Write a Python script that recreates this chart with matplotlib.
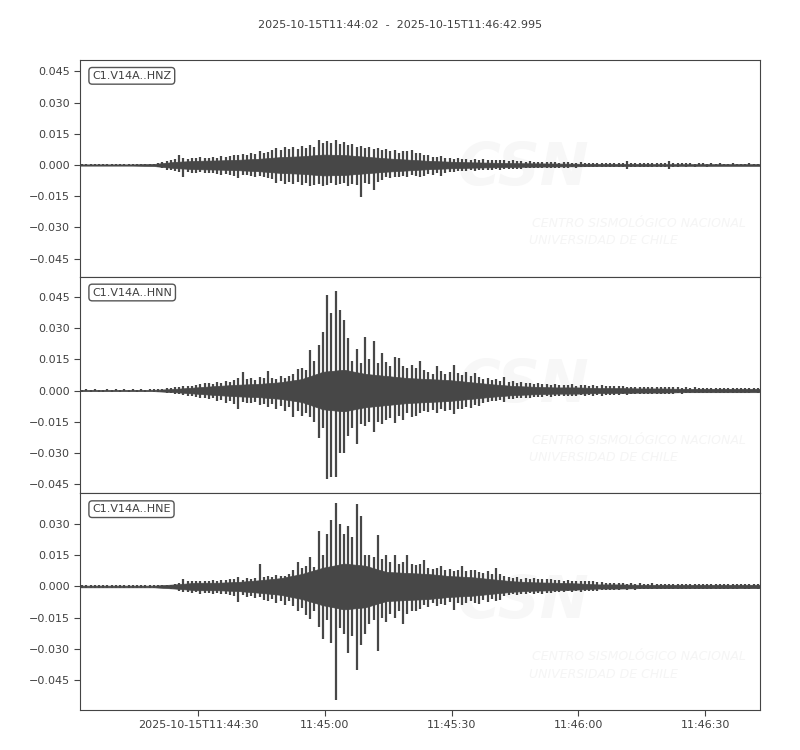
import matplotlib
matplotlib.use("Agg")
import matplotlib.pyplot as plt
import numpy as np
from datetime import datetime, timedelta

# values, in units of 1e-3
# *_up / *_down: highest sample / size of lowest sample in each second
# *_core: half-width of the solid dark band, one value per 5 s
t0 = datetime(2025, 10, 15, 11, 44, 2)
t_end = 160.995
channels = ["C1.V14A..HNZ", "C1.V14A..HNN", "C1.V14A..HNE"]

hnz_up = [0.4, 0.5, 0.4, 0.6, 0.5, 0.4, 0.5, 0.6, 0.4, 0.5,
          0.5, 0.4, 0.6, 0.5, 0.4, 0.5, 0.5, 0.6, 0.9, 1.4,
          2.0, 2.4, 2.8, 4.8, 3.5, 3.0, 3.6, 3.2, 3.8, 3.4,
          3.6, 4.0, 3.5, 4.2, 3.8, 4.5, 5.0, 4.6, 5.5, 4.8,
          6.0, 5.5, 6.5, 5.8, 6.2, 7.0, 8.0, 7.2, 8.5, 7.6,
          8.8, 7.8, 9.0, 8.2, 9.5, 8.6, 12.0, 10.5, 11.5, 10.8,
          11.8, 10.0, 11.2, 9.5, 10.0, 8.8, 9.0, 8.0, 8.5, 7.5,
          8.2, 7.0, 7.8, 6.5, 7.2, 6.0, 6.8, 6.5, 7.0, 5.8,
          5.6, 5.0, 4.6, 4.0, 3.8, 4.2, 3.5, 3.6, 3.0, 3.2,
          2.8, 3.0, 2.6, 2.9, 2.5, 2.7, 2.4, 2.5, 2.2, 2.4,
          2.2, 2.0, 2.3, 1.9, 1.8, 1.6, 1.7, 1.5, 1.6, 1.4,
          1.5, 1.3, 1.4, 1.2, 1.4, 1.3, 1.2, 1.1, 1.3, 1.2,
          1.1, 1.2, 1.0, 1.1, 1.2, 1.0, 1.1, 1.0, 1.1, 1.9,
          1.2, 1.0, 0.9, 1.0, 0.9, 0.8, 0.9, 0.8, 0.9, 2.0,
          1.0, 0.9, 0.8, 0.9, 0.8, 0.7, 0.8, 0.8, 0.7, 0.8,
          0.7, 0.8, 0.7, 0.7, 0.8, 0.7, 0.6, 0.7, 0.8, 0.7, 0.7]
hnz_down = [0.5, 0.4, 0.6, 0.5, 0.4, 0.5, 0.6, 0.4, 0.5, 0.5,
            0.4, 0.6, 0.5, 0.5, 0.6, 0.4, 0.5, 0.5, 0.8, 1.5,
            2.2, 2.6, 3.0, 3.4, 5.6, 3.2, 3.6, 4.0, 3.4, 3.8,
            4.0, 3.6, 4.4, 5.0, 4.2, 4.6, 5.2, 6.2, 5.0, 4.8,
            5.2, 5.8, 5.4, 6.0, 6.4, 6.8, 8.5, 7.6, 9.0, 8.0,
            9.2, 8.4, 9.6, 8.8, 10.0, 9.4, 9.0, 10.2, 9.6, 8.8,
            9.8, 9.2, 8.6, 10.0, 9.0, 9.5, 15.2, 8.6, 9.0, 12.0,
            8.0, 7.0, 6.0, 6.4, 5.6, 5.8, 5.2, 5.6, 5.0, 5.4,
            5.8, 5.2, 4.4, 4.6, 4.0, 5.4, 3.8, 3.2, 3.4, 3.0,
            2.8, 3.0, 2.6, 2.8, 2.4, 2.6, 2.3, 2.4, 2.1, 2.2,
            2.0, 2.1, 1.8, 1.9, 1.7, 1.6, 1.5, 1.6, 1.4, 1.5,
            1.4, 1.3, 1.2, 1.3, 1.2, 1.2, 1.1, 1.2, 1.1, 1.0,
            1.1, 1.0, 1.1, 1.0, 1.0, 1.1, 0.9, 1.0, 1.0, 1.7,
            1.0, 0.9, 0.9, 0.8, 0.9, 0.8, 0.8, 0.9, 0.8, 1.9,
            0.8, 0.9, 0.7, 0.8, 0.7, 0.8, 0.7, 0.7, 0.8, 0.7,
            0.7, 0.7, 0.6, 0.7, 0.7, 0.6, 0.7, 0.6, 0.7, 0.6, 0.7]
hnz_core = [0.3, 0.3, 0.3, 0.5, 1.5, 2.0, 2.2, 2.5, 3.0, 3.8, 4.2,
            5.0, 4.8, 4.0, 3.2, 2.6, 2.0, 1.6, 1.3, 1.1, 0.9, 0.8,
            0.7, 0.6, 0.5, 0.5, 0.5, 0.4, 0.4, 0.4, 0.4, 0.4, 0.4]

hnn_up = [0.4, 0.5, 0.4, 0.5, 0.4, 0.4, 0.5, 0.4, 0.5, 0.4,
          0.5, 0.4, 0.5, 0.4, 0.5, 0.4, 0.5, 0.5, 0.6, 0.8,
          1.0, 1.3, 1.5, 1.8, 2.0, 2.2, 2.4, 2.6, 3.0, 3.4,
          3.6, 3.2, 4.2, 3.8, 4.6, 4.0, 5.0, 5.8, 8.8, 5.4,
          6.0, 5.2, 6.4, 6.0, 9.3, 6.2, 5.6, 6.8, 6.0, 7.0,
          8.0, 10.5, 11.0, 10.0, 19.6, 14.0, 21.7, 28.0, 45.7, 37.0,
          47.8, 38.5, 34.0, 25.0, 14.0, 20.0, 13.0, 25.7, 15.0, 24.0,
          13.0, 18.0, 13.5, 12.0, 16.0, 15.5, 12.0, 11.0, 12.5, 11.0,
          14.0, 10.0, 9.0, 8.0, 12.0, 9.5, 8.0, 9.0, 12.2, 8.5,
          7.5, 9.0, 7.0, 8.5, 6.5, 5.5, 6.0, 5.0, 5.5, 4.5,
          6.4, 4.0, 4.5, 3.8, 4.2, 3.5, 3.8, 3.2, 3.5, 3.0,
          3.0, 2.8, 3.2, 2.6, 2.8, 2.5, 3.0, 2.4, 2.6, 2.5,
          2.4, 2.6, 2.3, 2.5, 2.2, 2.4, 2.0, 2.2, 2.0, 1.9,
          1.8, 1.9, 1.7, 1.8, 1.6, 1.8, 1.7, 1.6, 1.8, 1.5,
          1.6, 1.5, 1.4, 1.6, 1.3, 1.5, 1.4, 1.3, 1.4, 1.2,
          1.3, 1.2, 1.1, 1.3, 1.1, 1.2, 1.0, 1.1, 1.0, 1.1, 1.0]
hnn_down = [0.5, 0.4, 0.5, 0.4, 0.5, 0.5, 0.4, 0.5, 0.4, 0.5,
            0.4, 0.5, 0.4, 0.5, 0.4, 0.5, 0.4, 0.5, 0.6, 0.9,
            1.1, 1.4, 1.6, 1.9, 2.2, 2.4, 2.6, 3.0, 3.6, 3.4,
            4.0, 3.8, 5.0, 4.4, 6.0, 5.2, 6.4, 8.8, 5.6, 6.2,
            6.0, 5.4, 7.0, 6.4, 8.0, 6.6, 9.0, 7.4, 9.6, 8.0,
            12.8, 10.0, 12.0, 11.0, 12.5, 15.0, 23.0, 18.0, 42.5, 41.7,
            41.7, 30.0, 30.0, 22.0, 18.0, 25.7, 16.0, 17.0, 15.0, 20.0,
            15.0, 16.0, 14.0, 13.0, 15.5, 12.0, 14.0, 11.0, 12.5, 12.0,
            11.0, 10.0, 10.5, 9.5, 11.0, 9.0, 10.0, 9.5, 11.2, 9.0,
            9.0, 8.0, 8.5, 7.0, 7.5, 6.0, 5.5, 5.0, 5.2, 4.5,
            5.6, 4.0, 4.2, 3.6, 3.8, 3.4, 3.6, 3.0, 3.2, 3.0,
            2.8, 3.0, 2.6, 2.8, 2.5, 2.7, 2.4, 2.6, 2.3, 2.5,
            2.3, 2.5, 2.2, 2.4, 2.1, 2.3, 2.0, 2.1, 1.9, 2.0,
            1.8, 1.7, 1.9, 1.6, 1.8, 1.6, 1.7, 1.5, 1.7, 1.5,
            1.5, 1.4, 1.5, 1.3, 1.4, 1.3, 1.4, 1.2, 1.3, 1.2,
            1.2, 1.1, 1.2, 1.0, 1.1, 1.0, 1.1, 1.0, 1.0, 0.9, 1.0]
hnn_core = [0.3, 0.3, 0.3, 0.3, 0.8, 1.5, 2.2, 2.8, 3.2, 4.0, 5.5,
            9.0, 10.0, 8.0, 7.0, 6.0, 5.5, 5.0, 4.0, 3.0, 2.2, 1.8,
            1.5, 1.5, 1.2, 1.2, 1.0, 1.0, 0.8, 0.8, 0.8, 0.8, 0.8]

hne_up = [0.5, 0.6, 0.5, 0.6, 0.5, 0.6, 0.5, 0.6, 0.5, 0.6,
          0.5, 0.6, 0.5, 0.6, 0.5, 0.6, 0.5, 0.6, 0.5, 0.6,
          0.7, 0.9, 1.2, 1.8, 3.8, 2.4, 2.8, 2.6, 2.4, 2.8,
          2.6, 3.0, 2.8, 3.2, 3.0, 3.4, 3.8, 4.5, 3.2, 4.0,
          3.6, 4.2, 11.0, 4.5, 5.0, 4.6, 5.5, 5.0, 4.8, 5.8,
          8.0, 12.0, 9.0, 10.0, 14.0, 9.5, 26.8, 15.0, 25.0, 32.0,
          40.0, 30.0, 25.0, 29.0, 23.6, 39.6, 34.0, 15.0, 15.0, 14.0,
          24.8, 13.0, 15.0, 12.0, 15.0, 11.0, 12.0, 15.0, 11.0, 10.5,
          11.0, 12.6, 9.0, 8.5, 9.0, 9.7, 8.0, 8.6, 7.5, 8.0,
          9.7, 7.5, 8.0, 8.0, 7.0, 6.5, 7.5, 6.0, 8.8, 6.0,
          5.0, 4.5, 4.0, 4.4, 3.8, 4.2, 3.6, 4.0, 3.5, 3.8,
          3.4, 3.6, 3.2, 3.0, 2.8, 3.0, 2.6, 2.8, 2.5, 2.7,
          2.4, 2.6, 2.3, 2.0, 1.8, 1.6, 1.7, 1.5, 1.6, 1.4,
          1.5, 1.4, 1.6, 1.4, 1.3, 1.5, 1.4, 1.3, 1.4, 1.3,
          1.3, 1.2, 1.4, 1.2, 1.3, 1.1, 1.2, 1.3, 1.1, 1.2,
          1.1, 1.2, 1.0, 1.1, 1.2, 1.0, 1.1, 1.0, 1.1, 1.0, 1.0]
hne_down = [0.6, 0.5, 0.6, 0.5, 0.6, 0.5, 0.6, 0.5, 0.6, 0.5,
            0.6, 0.5, 0.6, 0.5, 0.6, 0.5, 0.6, 0.5, 0.6, 0.5,
            0.8, 1.0, 1.4, 2.0, 2.6, 2.8, 3.2, 2.8, 3.4, 3.0,
            3.2, 3.6, 3.0, 3.8, 3.4, 4.0, 4.4, 7.5, 4.2, 5.0,
            4.6, 5.4, 5.0, 6.4, 7.0, 6.0, 8.0, 7.2, 9.0, 6.8,
            9.5, 12.0, 10.5, 13.5, 15.5, 12.0, 19.5, 25.0, 16.0, 27.0,
            54.6, 20.0, 23.0, 32.0, 24.0, 40.0, 28.0, 23.0, 18.0, 16.0,
            31.0, 15.0, 17.0, 13.0, 15.0, 12.0, 17.9, 13.0, 12.0, 12.0,
            11.0, 9.0, 10.0, 8.0, 9.5, 8.5, 9.0, 7.5, 11.3, 8.0,
            9.0, 8.0, 7.0, 7.8, 8.5, 6.5, 7.5, 6.0, 7.0, 6.5,
            4.5, 4.0, 3.6, 4.0, 3.4, 3.8, 3.2, 3.6, 3.0, 3.4,
            3.0, 3.2, 2.8, 2.6, 2.8, 2.4, 2.6, 2.3, 2.5, 2.2,
            2.2, 2.4, 2.0, 1.8, 1.6, 1.7, 1.5, 1.6, 1.4, 1.5,
            1.4, 1.5, 1.3, 1.4, 1.3, 1.2, 1.4, 1.2, 1.3, 1.2,
            1.2, 1.3, 1.1, 1.2, 1.1, 1.2, 1.0, 1.1, 1.2, 1.0,
            1.1, 1.0, 1.1, 1.0, 1.0, 1.1, 0.9, 1.0, 1.0, 0.9, 1.0]
hne_core = [0.4, 0.4, 0.4, 0.4, 1.0, 1.8, 1.8, 2.2, 3.0, 4.0, 6.0,
            9.0, 11.0, 10.0, 7.0, 6.5, 6.0, 5.0, 4.5, 3.5, 2.5, 2.0,
            1.8, 1.5, 1.0, 1.0, 0.8, 0.8, 0.8, 0.8, 0.8, 0.8, 0.8]
core_step = 5

tick_times = ["11:44:30", "11:45:00", "11:45:30", "11:46:00", "11:46:30"]

traces = [(hnz_up, hnz_down, hnz_core),
          (hnn_up, hnn_down, hnn_core),
          (hne_up, hne_down, hne_core)]

txt = "#404040"
line_c = "#474747"
plt.rcParams["font.family"] = "DejaVu Sans"
plt.rcParams["font.size"] = 8

fig, axes = plt.subplots(3, 1, figsize=(8, 7.5), dpi=100, sharex=True)
fig.subplots_adjust(left=0.1, right=0.95, top=0.92, bottom=0.0533, hspace=0)

# common vertical half-range, obspy style (centred on each trace)
half = max((max(u) + max(d)) / 2.0 for u, d, c in traces) * 1e-3 * 1.1

for ax, (up, down, core), name in zip(axes, traces, channels):
    up = np.array(up) * 1e-3
    down = np.array(down) * 1e-3
    core = np.array(core) * 1e-3
    sec = np.arange(len(up))
    tc = np.arange(len(core)) * core_step + core_step / 2.0
    tc = np.concatenate([[0], tc, [t_end]])
    core = np.concatenate([[core[0]], core, [core[-1]]])

    # faint watermark
    ax.text(0.555, 0.50, "CSN", transform=ax.transAxes, fontsize=42,
            fontstyle="italic", fontweight="bold", color="#f7f7f7",
            va="center", ha="left", zorder=0)
    ax.text(0.665, 0.245, "CENTRO SISMOLÓGICO NACIONAL", transform=ax.transAxes,
            fontsize=9, fontstyle="italic", color="#f5f5f5", va="center", zorder=0)
    ax.text(0.66, 0.165, "UNIVERSIDAD DE CHILE", transform=ax.transAxes,
            fontsize=9, fontstyle="italic", color="#f5f5f5", va="center", zorder=0)

    # solid band + one min/max stroke per second
    ax.fill_between(tc, -core, core, facecolor=line_c,
                    edgecolor=line_c, lw=0.5, zorder=2)
    ax.vlines(sec + 0.5, -down, up, color=line_c, lw=1.6, zorder=2)

    mid = (up.max() - down.max()) / 2.0
    ax.set_ylim(mid - half, mid + half)
    ticks = np.round(np.arange(-3, 4) * 0.015, 3)
    ax.set_yticks([v for v in ticks if mid - half < v < mid + half])

    ax.text(0.018, 0.95, name, transform=ax.transAxes, va="top", ha="left",
            fontsize=8, color=txt, zorder=5,
            bbox=dict(boxstyle="round,pad=0.3", fc="white", ec="#555555", lw=1))

    for s in ax.spines.values():
        s.set_color("#444444")
    ax.tick_params(axis="y", colors="#444444", labelcolor=txt, length=4)
    ax.tick_params(axis="x", colors="#444444", labelcolor=txt, length=4)

for ax in axes[:-1]:
    ax.tick_params(axis="x", bottom=False, labelbottom=False)

pos = []
labels = []
for i, s in enumerate(tick_times):
    tt = datetime.strptime("2025-10-15 " + s, "%Y-%m-%d %H:%M:%S")
    pos.append((tt - t0).total_seconds())
    labels.append(tt.strftime("%Y-%m-%dT%H:%M:%S") if i == 0 else s)
axes[-1].set_xticks(pos)
axes[-1].set_xticklabels(labels)
axes[-1].set_xlim(0, t_end)

end = t0 + timedelta(seconds=t_end)
fig.suptitle(t0.strftime("%Y-%m-%dT%H:%M:%S") + "  -  " +
             end.strftime("%Y-%m-%dT%H:%M:%S.") + "%03d" % round(end.microsecond / 1000),
             fontsize=8, color=txt, y=0.973)

plt.savefig("out.png", dpi=100)
